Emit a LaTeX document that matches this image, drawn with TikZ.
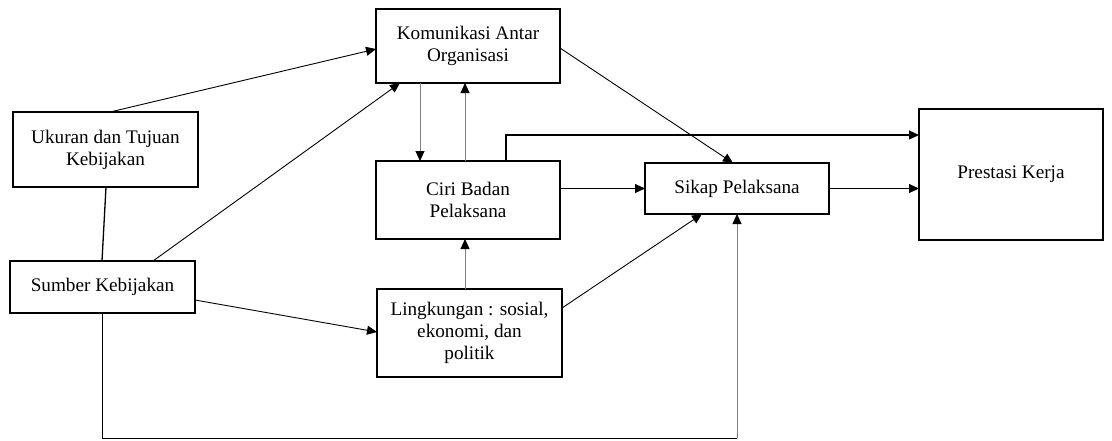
\documentclass[tikz,border=0pt]{standalone}
\usepackage{fontspec}
\setmainfont{Liberation Serif}
\usetikzlibrary{arrows.meta,calc}
\definecolor{lg}{gray}{0.5}
\begin{document}
\begin{tikzpicture}[x=1pt,y=-1pt,
  box/.style={draw,line width=2.5pt,outer sep=0pt,inner sep=0pt,align=center,
    font=\fontsize{19.2}{22}\selectfont},
  arr/.style={line width=0.9pt,-{Triangle[length=10pt,width=9pt,color=black]}},
  arrg/.style={arr,draw=lg},
  plain/.style={line width=1.3pt}]
\useasboundingbox (0,0) rectangle (1112,440);
\node[box,minimum width=184pt,minimum height=74pt] (kom) at (468,46) {Komunikasi Antar\\Organisasi};
\node[box,minimum width=185pt,minimum height=75pt] (uk) at (105.5,149.5) {Ukuran dan Tujuan\\Kebijakan};
\node[box,minimum width=185pt,minimum height=52pt] (sum) at (102.5,287) {Sumber Kebijakan};
\node[box,minimum width=184pt,minimum height=78pt] (ciri) at (468,200) {Ciri Badan\\Pelaksana};
\node[box,minimum width=185pt,minimum height=88pt] (ling) at (469.5,333) {Lingkungan : sosial,\\ekonomi, dan\\politik};
\node[box,minimum width=184pt,minimum height=51pt] (sikap) at (737,188.5) {Sikap Pelaksana};
\node[box,minimum width=184pt,minimum height=131pt] (pres) at (1011,174.5) {Prestasi Kerja};
\coordinate (bc) at (737,438);
% connectors
\draw[arr] ($(uk.north)+(4.5,0)$) -- ($(kom.west)+(0,3)$);
\draw[arr] ($(sum.north)+(50.5,0)$) -- ($(kom.south)+(-68,0)$);
\draw[plain] ($(uk.south)+(0.5,0)$) -- ($(sum.north)+(-0.5,0)$);
\draw[arrg] ($(kom.south)+(-48,0)$) -- ($(ciri.north)+(-48,0)$);
\draw[arrg] ($(ciri.north)+(-3,0)$) -- ($(kom.south)+(-3,0)$);
\draw[arr,line width=1.2pt] ($(ciri.north)+(38,0)$) |- ($(pres.west)+(0,-39.5)$);
\draw[arr] ($(kom.east)+(0,2)$) -- ($(sikap.north)+(-4,0)$);
\draw[arr] (ciri.east |- sikap.west) -- (sikap.west);
\draw[arr] (sikap.east) -- (sikap.east -| pres.west);
\draw[arrg] ($(ling.north)+(-4.5,0)$) -- ($(ciri.south)+(-3,0)$);
\draw[arr] ($(ling.east)+(0,-25)$) -- ($(sikap.south)+(-35,0)$);
\draw[arr] ($(sum.east)+(0,13)$) -- ($(ling.west)+(0,-1)$);
\draw[line width=0.9pt] (sum.south) |- (bc);
\draw[arrg] (bc) -- (sikap.south);
\end{tikzpicture}
\end{document}
